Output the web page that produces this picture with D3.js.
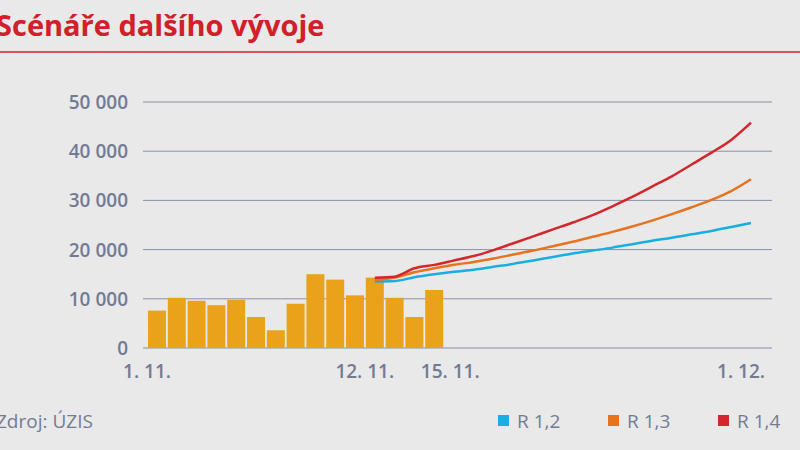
<!DOCTYPE html><html><head><meta charset="utf-8"><script src="https://cdn.jsdelivr.net/npm/d3@7"></script>
<style>body{margin:0;background:#e9e9e9;font-family:"Open Sans",sans-serif}</style></head><body><svg id="c" width="800" height="450"></svg><script>
const barDates=d3.range(1,16).map(d=>new Date(2020,10,d));
const barValues=[7600,10200,9600,8700,9800,6300,3600,9000,15000,13900,10700,14300,10200,6300,11800];
const lineDates=d3.range(0,20).map(i=>new Date(2020,10,12+i));
const r12=[13500,13600,14400,15000,15500,15900,16500,17100,17800,18500,19200,19800,20400,21100,21800,22400,23100,23800,24600,25400];
const r13=[13800,14300,15400,16200,16900,17500,18200,19000,19800,20700,21600,22600,23600,24700,25900,27200,28600,30100,31900,34300];
const r14=[14300,14500,16200,16900,17800,18700,19900,21300,22700,24100,25500,27000,28800,30700,32800,34900,37300,39700,42300,45800];
const yTicks=[0,10000,20000,30000,40000,50000];
const xTicks=[[new Date(2020,10,1),"1. 11.",0],[new Date(2020,10,12),"12. 11.",0],[new Date(2020,10,15),"15. 11.",26],[new Date(2020,11,1),"1. 12.",0]];
const legend=[["R 1,2","#1aaee0"],["R 1,3","#e8731f"],["R 1,4","#d3262d"]];
const svg=d3.select("#c");
svg.append("rect").attr("width",800).attr("height",450).attr("fill","#e9e9e9");
svg.append("text").attr("x",-4).attr("y",36).attr("fill","#d0202a").attr("font-size",29).attr("font-weight",700).text("Scénáře dalšího vývoje");
svg.append("line").attr("x1",0).attr("x2",800).attr("y1",52).attr("y2",52).attr("stroke","#d0202a").attr("stroke-width",1.5);
const x=d3.scaleTime().domain([new Date(2020,10,1),new Date(2020,11,1)]).range([147,741]);
const y=d3.scaleLinear().domain([0,50000]).range([348,102]);
const fmt=v=>d3.format(",")(v).replace(/,/g," ");
yTicks.forEach(t=>{
 svg.append("line").attr("x1",143).attr("x2",772).attr("y1",y(t)).attr("y2",y(t)).attr("stroke","#8a90a6").attr("stroke-width",1);
 svg.append("text").attr("x",128).attr("y",y(t)+7).attr("text-anchor","end").attr("fill","#737b94").attr("font-size",19).attr("font-weight",600).text(fmt(t));
});
const bw=18;
svg.selectAll(".b").data(barValues).join("rect").attr("x",(d,i)=>x(barDates[i])+1).attr("width",bw).attr("y",d=>y(d)).attr("height",d=>y(0)-y(d)).attr("fill","#eaa21a");
[[r12,legend[0][1]],[r13,legend[1][1]],[r14,legend[2][1]]].forEach(([s,c])=>{
 svg.append("path").attr("d",d3.line().x((d,i)=>x(lineDates[i])+10).y(d=>y(d)).curve(d3.curveMonotoneX)(s)).attr("fill","none").attr("stroke",c).attr("stroke-width",2.5);
});
xTicks.forEach(([d,l,dx])=>svg.append("text").attr("x",x(d)+dx).attr("y",378).attr("text-anchor","middle").attr("fill","#737b94").attr("font-size",19).attr("font-weight",600).text(l));
svg.append("text").attr("x",-4).attr("y",428).attr("fill","#737b94").attr("font-size",19).text("Zdroj: ÚZIS");
legend.forEach(([l,c],i)=>{const lx=498+i*110;
 svg.append("rect").attr("x",lx).attr("y",415).attr("width",11).attr("height",11).attr("fill",c);
 svg.append("text").attr("x",lx+19).attr("y",428).attr("fill","#737b94").attr("font-size",19).text(l);});
</script></body></html>
